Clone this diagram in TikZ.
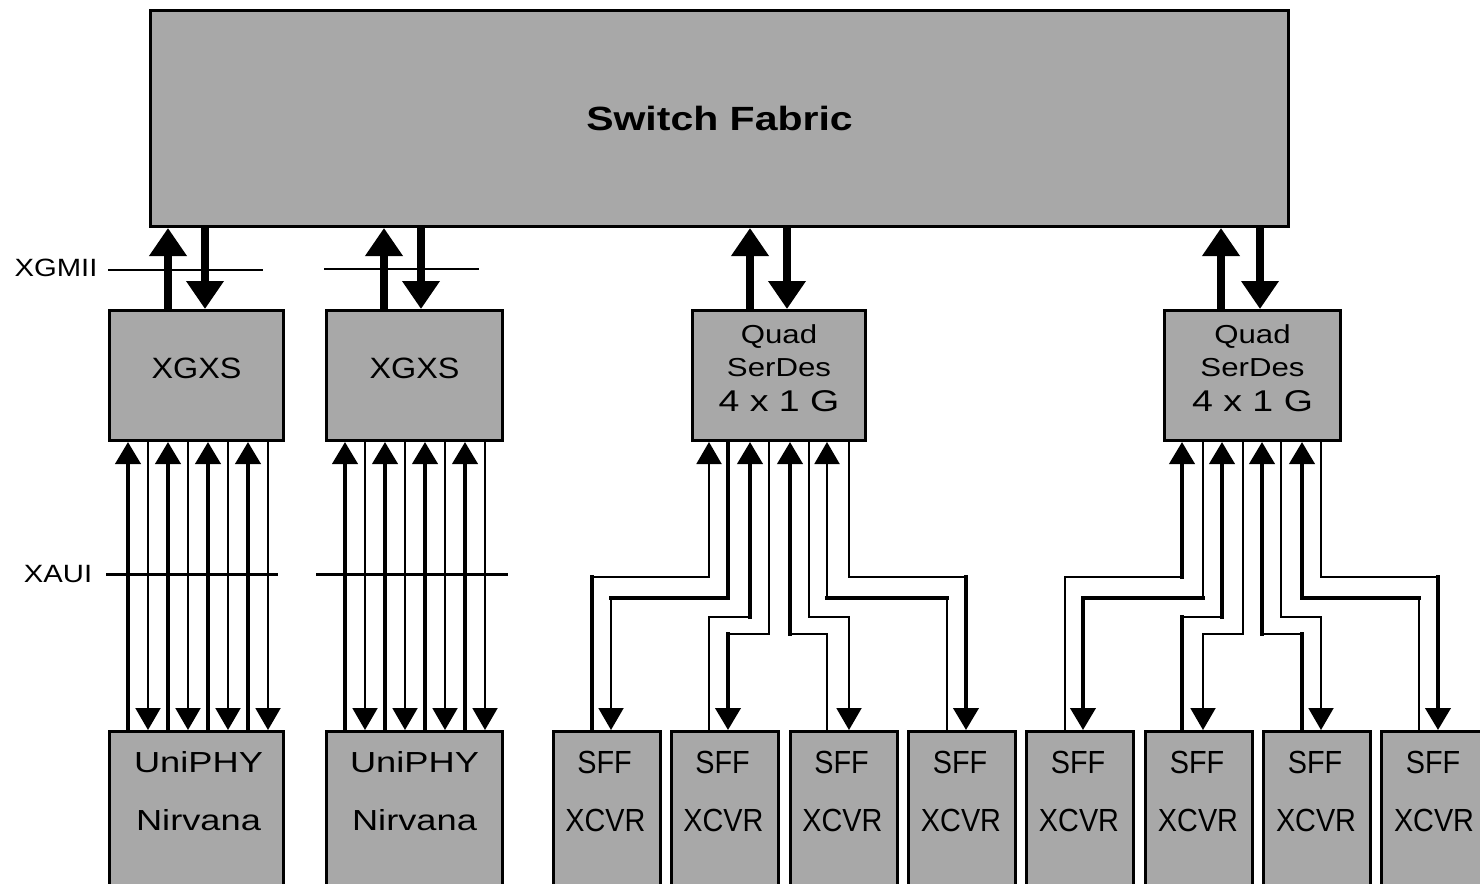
\documentclass[tikz,border=0pt]{standalone}
\usepackage{fontspec}
\setmainfont{Liberation Sans}
\usetikzlibrary{arrows.meta,calc}
\definecolor{boxgray}{HTML}{A8A8A8}

\newcommand{\wide}[1]{\addfontfeature{FakeStretch=#1}}

\begin{document}
\begin{tikzpicture}[
    x=0.5pt, y=-0.5pt,
    block/.style={draw=black, line width=1.5pt, fill=boxgray, inner sep=0pt},
    tagtext/.style={font=\fontsize{12.5}{15}\selectfont\wide{1.17}, inner sep=2pt},
    boxtext/.style={font=\fontsize{14.7}{17}\selectfont\wide{1.1}, align=center, text depth=7pt},
    serdes/.style={font=\fontsize{13}{16.5}\selectfont\wide{1.2}},
    unitext/.style={font=\fontsize{14.5}{17}\selectfont\wide{1.25}, inner sep=1pt},
    sfftext/.style={font=\fontsize{16}{18}\selectfont\wide{0.9}, inner sep=1pt},
    bus/.style={line width=1pt},
    xbus/.style={line width=1.5pt},
    bigflow/.style={line width=4pt, -{Triangle[length=14pt,width=18pt]}},
    thk/.style={line width=2pt, line cap=rect},
    thn/.style={line width=1pt, line cap=rect},
    lanetip/.style={-{Triangle[length=11pt,width=12.5pt]}}
  ]
  \useasboundingbox (0,0) rectangle (1480,884);

  \node[block, minimum width=569pt, minimum height=108pt,
        font=\fontsize{16.8}{19}\selectfont\bfseries\wide{1.22}] (fabric) at (719.5,118.5) {Switch Fabric};

  \node[block, boxtext, minimum width=87pt, minimum height=65pt] (xgxs1) at (196.5,375.5) {XGXS};
  \node[block, boxtext, minimum width=88pt, minimum height=65pt] (xgxs2) at (414.5,375.5) {XGXS};
  \node[block, boxtext, serdes, minimum width=86.5pt, minimum height=65pt] (qs1) at (779,375.5)
        {Quad\\SerDes\\[1pt]{\fontsize{15}{17}\selectfont\wide{1.25}4 x 1 G}};
  \node[block, boxtext, serdes, minimum width=88pt, minimum height=65pt] (qs2) at (1252.5,375.5)
        {Quad\\SerDes\\[1pt]{\fontsize{15}{17}\selectfont\wide{1.25}4 x 1 G}};

  \node[block, anchor=north, minimum width=87pt, minimum height=90pt] (uni1) at (196.5,730) {};
  \node[block, anchor=north, minimum width=88pt, minimum height=90pt] (uni2) at (414.5,730) {};
  \node[unitext] (uni1a) at ($(uni1.north)+(2,32)$) {UniPHY};
  \node[unitext] (uni1b) at ($(uni1.north)+(2,90)$) {Nirvana};
  \node[unitext] (uni2a) at ($(uni2.north)+(0,32)$) {UniPHY};
  \node[unitext] (uni2b) at ($(uni2.north)+(0,90)$) {Nirvana};

  \foreach \n/\cx in {1/606.5,2/724.5,3/843.5,4/962,5/1080,6/1199,7/1317,8/1435} {
    \node[block, anchor=north, minimum width=53.5pt, minimum height=90pt] (sff\n) at (\cx,730) {};
    \node[sfftext] (sff\n a) at ($(sff\n.north)+(-2,32)$) {SFF};
    \node[sfftext] (sff\n b) at ($(sff\n.north)+(-1,90)$) {XCVR};
  }

  % XGMII / XAUI markers
  \node[tagtext] (xgmii) at (56,268) {XGMII};
  \node[tagtext] (xaui) at (58,574) {XAUI};
  \draw[bus] (108,270) -- (263,270);
  \draw[bus] (324,269) -- (479,269);
  \draw[xbus] (106,574) -- (278,574);
  \draw[xbus] (316,574) -- (508,574);

  % to and from the fabric
  \foreach \b/\xu/\xd in {xgxs1/168/205, xgxs2/384/421, qs1/750/787, qs2/1221/1260} {
    \draw[bigflow] (\b.north -| \xu,0) -- (fabric.south -| \xu,0);
    \draw[bigflow] (fabric.south -| \xd,0) -- (\b.north -| \xd,0);
  }

  % XAUI lanes
  \foreach \b/\u in {xgxs1/uni1, xgxs2/uni2} {
    \foreach \k in {0,...,3} {
      \draw[thk, lanetip] ($(\u.north west)+(20+40*\k,0)$) -- ($(\b.south west)+(20+40*\k,0)$);
      \draw[thn, lanetip] ($(\b.south west)+(40+40*\k,0)$) -- ($(\u.north west)+(40+40*\k,0)$);
    }
  }

  % serial links, up
  \foreach \s/\q/\xs/\ym/\xq/\wa/\wb/\wc in {
      sff1/qs1/592/577/709/thk/thn/thn, sff2/qs1/709/617/750/thn/thn/thk,
      sff3/qs1/827/634/790/thn/thn/thk, sff4/qs1/947/598/827/thn/thk/thn,
      sff5/qs2/1065/577/1182/thn/thn/thk, sff6/qs2/1182/617/1222/thk/thn/thk,
      sff7/qs2/1302/634/1262/thk/thn/thk, sff8/qs2/1419/598/1302/thn/thk/thk} {
    \draw[\wa] (\s.north -| \xs,0) -- (\xs,\ym);
    \draw[\wb] (\xs,\ym) -- (\xq,\ym);
    \draw[\wc, lanetip] (\xq,\ym) -- (\q.south -| \xq,0);
  }

  % serial links, down
  \foreach \q/\s/\xq/\ym/\xs/\wa/\wb/\wc in {
      qs1/sff1/728/598/611/thk/thk/thn, qs1/sff2/769/634/728/thn/thn/thk,
      qs1/sff3/809/617/849/thn/thn/thn, qs1/sff4/849/577/966/thn/thn/thk,
      qs2/sff5/1203/598/1083/thn/thk/thk, qs2/sff6/1243/634/1203/thn/thn/thn,
      qs2/sff7/1281/617/1321/thn/thn/thn, qs2/sff8/1321/577/1438/thn/thn/thk} {
    \draw[\wa] (\q.south -| \xq,0) -- (\xq,\ym);
    \draw[\wb] (\xq,\ym) -- (\xs,\ym);
    \draw[\wc, lanetip] (\xs,\ym) -- (\s.north -| \xs,0);
  }
\end{tikzpicture}
\end{document}
